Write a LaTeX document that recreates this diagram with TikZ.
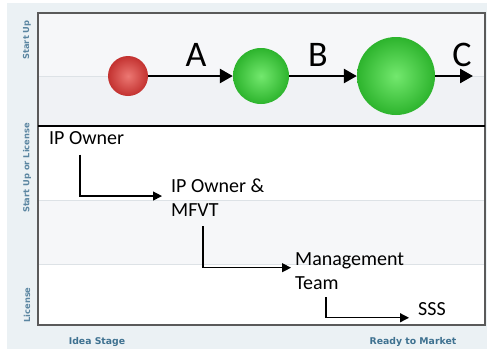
\documentclass[tikz,border=0pt]{standalone}
\usepackage{fontspec}
\setmainfont{Carlito}
\newfontfamily\axisfont{DejaVu Sans}
\usetikzlibrary{arrows.meta}
\definecolor{panelbg}{HTML}{EBF1F4}
\definecolor{bandA}{HTML}{F6F7F9}
\definecolor{bandB}{HTML}{F0F2F5}
\definecolor{gridc}{HTML}{DDE2E6}
\definecolor{framec}{HTML}{5A5A5A}
\definecolor{axisc}{HTML}{3E7190}
\tikzset{
  ball/.style={circle, inner sep=0pt, draw=none},
  redball/.style={ball, inner color={rgb,255:red,236;green,120;blue,115}, outer color={rgb,255:red,195;green,50;blue,48}},
  greenball/.style={ball, inner color={rgb,255:red,115;green,232;blue,110}, outer color={rgb,255:red,45;green,180;blue,45}},
  bigarrow/.style={line width=2.6pt, -{Triangle[length=13pt,width=14pt]}},
  steparrow/.style={line width=1.3pt, -{Triangle[length=9pt,width=9pt]}},
  biglabel/.style={font=\fontsize{36}{40}\selectfont, inner sep=0pt, anchor=base},
  ownerlabel/.style={font=\fontsize{20}{24}\selectfont, inner sep=0pt, anchor=north west, align=left},
  axislabel/.style={font=\axisfont\bfseries\fontsize{9.3}{11}\selectfont, text=axisc, inner sep=0pt},
  sidelabel/.style={font=\axisfont\bfseries\fontsize{8.3}{10}\selectfont, text=axisc!85!white, inner sep=0pt, rotate=90}
}
\begin{document}
\begin{tikzpicture}[x=1pt,y=-1pt]
\useasboundingbox (0,0) rectangle (487,349);
\fill[white] (0,0) rectangle (487,349);
\fill[panelbg] (7,3) rectangle (487,349);
% plot area
\fill[bandA] (38,13) rectangle (485,76);
\fill[bandB] (38,76) rectangle (485,126);
\fill[white] (38,126) rectangle (485,200);
\fill[bandA] (38,200) rectangle (485,264);
\fill[white] (38,264) rectangle (485,325);
\draw[gridc, line width=0.8pt] (38,76) -- (485,76);
\draw[gridc, line width=0.8pt] (38,200) -- (485,200);
\draw[gridc, line width=0.8pt] (38,264) -- (485,264);
\draw[framec, line width=1.3pt] (38,13) rectangle (485,325);
\draw[black, line width=1.5pt] (38,126) -- (485,126);
% axis labels
\node[axislabel] (xa) at (97,342) {Idea Stage};
\node[axislabel] (xb) at (413,342) {Ready to Market};
\node[sidelabel] (ya) at (27,40) {Start Up};
\node[sidelabel] (yb) at (27,168) {Start Up or License};
\node[sidelabel] (yc) at (27,305) {License};
% balls
\node[redball, minimum size=40pt] (red) at (128,76) {};
\node[greenball, minimum size=56pt] (g1) at (261,76) {};
\node[greenball, minimum size=78pt] (g2) at (396,76) {};
\coordinate (cend) at (473,76);
\draw[bigarrow] (red) -- (g1);
\draw[bigarrow] (g1) -- (g2);
\draw[bigarrow] (g2) -- (cend);
\node[biglabel] (la) at (196,66) {A};
\node[biglabel] (lb) at (318,66) {B};
\node[biglabel] (lc) at (462,66) {C};
% owners
\node[ownerlabel] (ipo) at (49,131) {IP Owner};
\node[ownerlabel] (ipmf) at (171,179) {IP Owner \&\\MFVT};
\node[ownerlabel] (mgmt) at (295,252) {Management\\Team};
\node[ownerlabel] (sss) at (418,302) {SSS};
\draw[steparrow, shorten >=9pt] ([xshift=31pt,yshift=-10pt]ipo.south west) |- ([yshift=2pt]ipmf.west);
\draw[steparrow, shorten >=4pt] ([xshift=32pt,yshift=-9pt]ipmf.south west) |- ([yshift=3pt]mgmt.west);
\draw[steparrow, shorten >=9pt] ([xshift=31pt,yshift=-8pt]mgmt.south west) |- ([yshift=-9pt]sss.west);
\end{tikzpicture}
\end{document}
